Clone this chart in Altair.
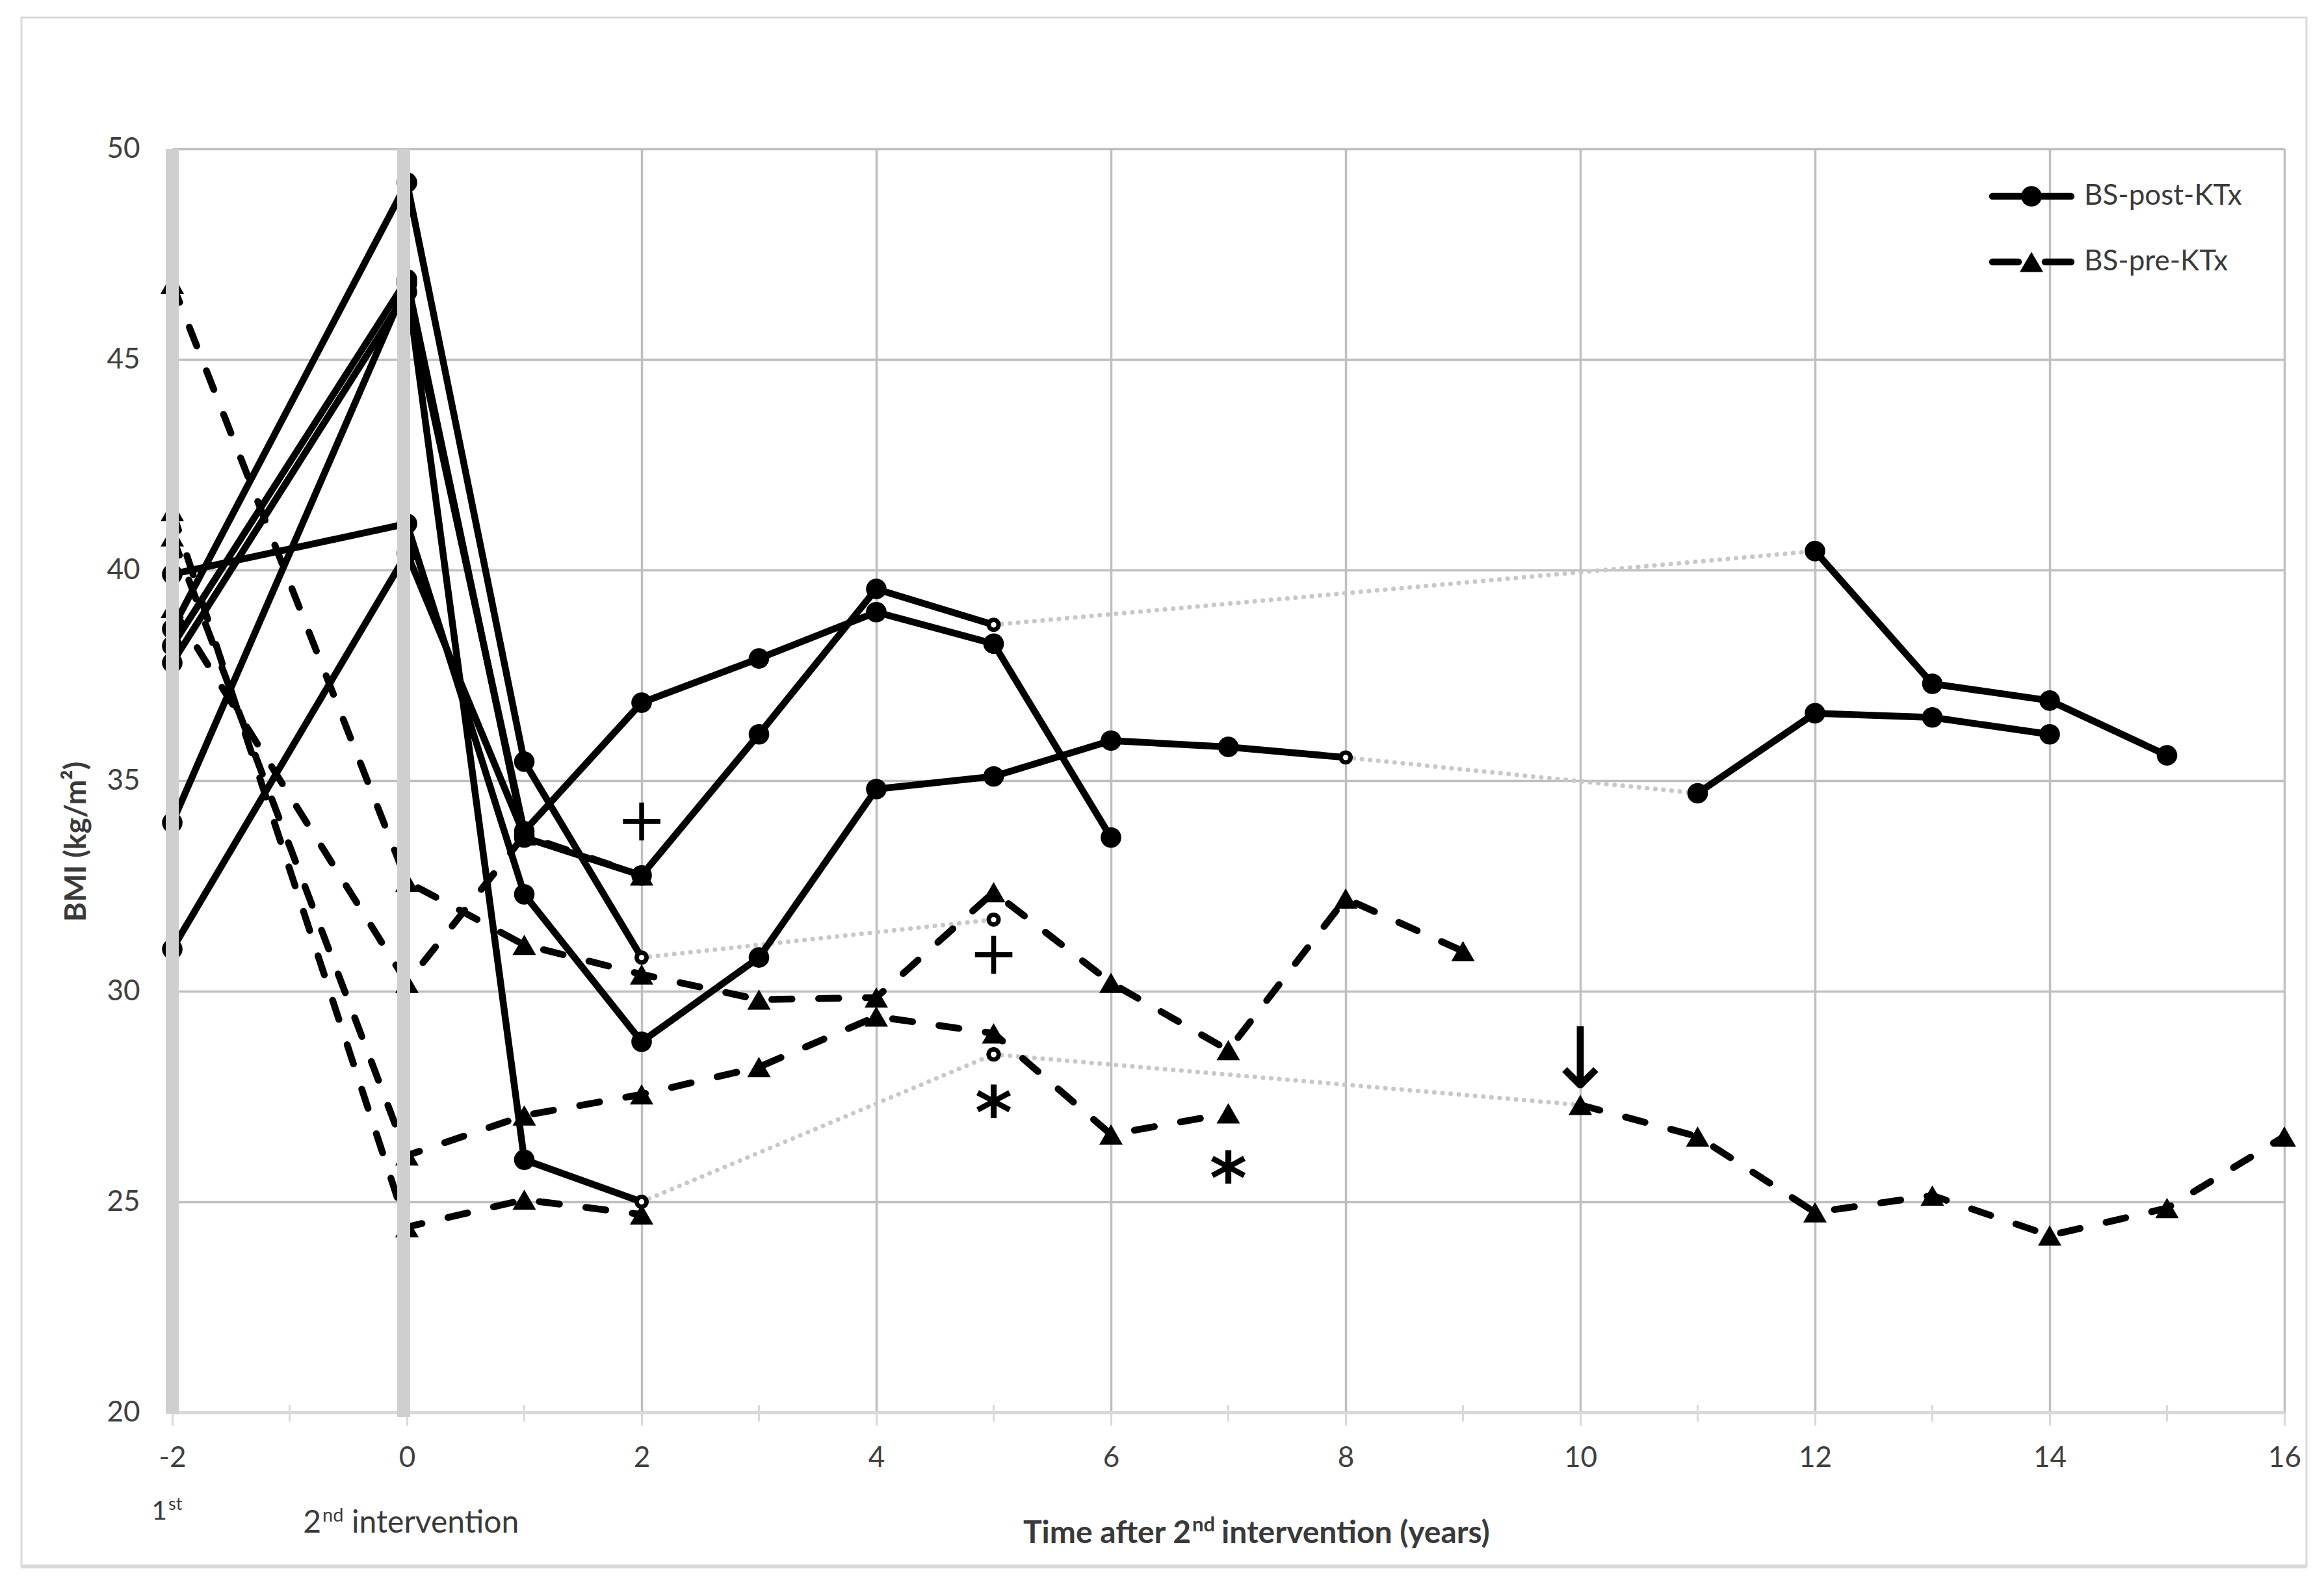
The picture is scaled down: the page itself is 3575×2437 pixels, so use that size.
import altair as alt
import pandas as pd

# ---------------- data ----------------
years = [-2, 0, 1, 2, 3, 4, 5, 6, 7, 8, 9, 10, 11, 12, 13, 14, 15, 16]
N = None

# BS-post-KTx patients (solid line, circles); None = no measurement that year
post_ktx = {
    "P1": [38.6, 49.2, 35.45, 30.8, N, N, 31.7, N, N, N, N, N, N, N, N, N, N, N],
    "P2": [38.2, 46.9, 33.65, 32.75, 36.1, 39.55, 38.7, N, N, N, N, N, N, 40.45, 37.3, 36.9, 35.6, N],
    "P3": [37.8, 46.6, 33.8, 36.85, 37.9, 39.0, 38.25, 33.65, N, N, N, N, N, N, N, N, N, N],
    "P4": [34.0, 46.8, 26.0, 25.0, N, N, 28.5, N, N, N, N, N, N, N, N, N, N, N],
    "P5": [39.9, 41.1, 32.3, 28.8, 30.8, 34.8, 35.1, 35.95, 35.8, 35.55, N, N, 34.7, 36.6, 36.5, 36.1, N, N],
    "P6": [31.0, 40.4, 33.7, N, N, N, N, N, N, N, N, N, N, N, N, N, N, N],
}

# BS-pre-KTx patients (dashed line, triangles)
pre_ktx = {
    "Q1": [46.8, 32.6, 31.1, 30.4, 29.8, 29.85, 32.35, 30.2, 28.6, 32.2, 30.95, N, N, N, N, N, N, N],
    "Q2": [40.8, 26.1, 27.05, 27.55, 28.2, 29.4, 29.0, 26.6, 27.1, N, N, N, N, N, N, N, N, N],
    "Q3": [41.4, 24.4, 25.05, 24.7, N, N, N, N, N, N, N, N, N, N, N, N, N, N],
    "Q4": [N, N, N, N, N, N, 28.5, N, N, N, N, 27.3, 26.55, 24.75, 25.15, 24.2, 24.85, 26.55],
    "Q5": [39.1, 30.2, 33.7, 32.75, N, N, N, N, N, N, N, N, N, N, N, N, N, N],
}

x_ticks = [-2, 0, 2, 4, 6, 8, 10, 12, 14, 16]
minor_ticks = [-1, 1, 3, 5, 7, 9, 11, 13, 15]
y_ticks = [20, 25, 30, 35, 40, 45, 50]
intervention_x = [-2, 0]

# annotation symbols
note_x = [2, 5, 5, 7, 10]
note_y = [34.1, 30.94, 27.45, 25.9, 28.44]
note_text = ["+", "+", "*", "*", "\u2193"]

legend_labels = ["BS-post-KTx", "BS-pre-KTx"]
y_title = "BMI (kg/m\u00b2)"
x_title_parts = ["Time after 2", "nd", "intervention (years)"]
first_parts = ["1", "st"]
second_parts = ["2", "nd", "intervention"]

# ---------------- build tables ----------------
line_rows, pt_rows, open_rows, gap_rows = [], [], [], []
for group, series in (("BS-post-KTx", post_ktx), ("BS-pre-KTx", pre_ktx)):
    for name, vals in series.items():
        runs, cur = [], []
        for xv, v in zip(years, vals):
            if v is None:
                if cur:
                    runs.append(cur)
                    cur = []
            else:
                cur.append((xv, v))
        if cur:
            runs.append(cur)
        for r_i, run in enumerate(runs):
            seg = f"{name}-{r_i}"
            for xv, v in run:
                line_rows.append(dict(group=group, seg=seg, x=xv, y=v))
            for p_i, (xv, v) in enumerate(run):
                is_open = (p_i == len(run) - 1 and r_i < len(runs) - 1) or (len(run) == 1 and r_i > 0)
                (open_rows if is_open else pt_rows).append(dict(group=group, x=xv, y=v))
            if r_i < len(runs) - 1:
                a, b = run[-1], runs[r_i + 1][0]
                gid = f"{name}-g{r_i}"
                gap_rows += [dict(gid=gid, x=a[0], y=a[1]), dict(gid=gid, x=b[0], y=b[1])]

lines = pd.DataFrame(line_rows)
pts = pd.DataFrame(pt_rows)
opens = pd.DataFrame(open_rows)
gaps = pd.DataFrame(gap_rows)
notes = pd.DataFrame({"x": note_x, "y": note_y, "t": note_text})

W, H = 3249, 1944
TXT = "#3a3a3a"
LW = 10.5

xscale = alt.Scale(domain=[-2, 16], nice=False, zero=False)
yscale = alt.Scale(domain=[20, 50], nice=False, zero=False)
X = alt.X("x:Q", scale=xscale, axis=alt.Axis(
    values=x_ticks, title=None, grid=True, gridColor="#bfbfbf", gridWidth=3.5,
    domain=True, domainColor="#d9d9d9", domainWidth=5,
    ticks=True, tickColor="#d9d9d9", tickWidth=3, tickSize=20,
    labelFont="Lato", labelFontSize=44, labelColor="#404040", labelPadding=28,
    labelFlush=False, labelOverlap=False, labelExpr="'' + datum.value"))
Y = alt.Y("y:Q", scale=yscale, axis=alt.Axis(
    values=y_ticks, title=None, grid=True, gridColor="#bfbfbf", gridWidth=3.5,
    domain=False, ticks=False, tickSize=0,
    labelFont="Lato", labelFontSize=44, labelColor="#404040", labelPadding=50,
    labelFlush=False, labelOverlap=False))

dotted = alt.Chart(gaps).mark_line(color="#c8c8c8", strokeWidth=7, strokeDash=[0.1, 12.5],
                                   strokeCap="round").encode(x=X, y=Y, detail="gid:N")
solid = alt.Chart(lines[lines.group == "BS-post-KTx"]).mark_line(
    color="black", strokeWidth=LW, strokeJoin="round").encode(x=X, y=Y, detail="seg:N")
dashed = alt.Chart(lines[lines.group == "BS-pre-KTx"]).mark_line(
    color="black", strokeWidth=LW, strokeDash=[31, 41], strokeCap="round").encode(x=X, y=Y, detail="seg:N")
circles = alt.Chart(pts[pts.group == "BS-post-KTx"]).mark_point(
    shape="circle", filled=True, color="black", size=1000, opacity=1).encode(x=X, y=Y)
tris = alt.Chart(pts[pts.group == "BS-pre-KTx"]).mark_point(
    shape="triangle-up", filled=True, color="black", size=1300, opacity=1).encode(x=X, y=Y)
open_outer = alt.Chart(opens).mark_point(shape="circle", filled=True, color="black",
                                         size=480, opacity=1).encode(x=X, y=Y)
open_inner = alt.Chart(opens).mark_point(shape="circle", filled=True, color="white",
                                         size=70, opacity=1).encode(x=X, y=Y)

band1 = alt.Chart(pd.DataFrame({"x": intervention_x[:1]})).mark_rule(
    color="#d0cece", strokeWidth=20).encode(x=X, y=alt.value(0), y2=alt.value(H + 2))
band2 = alt.Chart(pd.DataFrame({"x": intervention_x[1:]})).mark_rule(
    color="#d0cece", strokeWidth=20, xOffset=-5).encode(x=X, y=alt.value(0), y2=alt.value(H + 7))
minor = alt.Chart(pd.DataFrame({"x": minor_ticks})).mark_rule(
    color="#d9d9d9", strokeWidth=3).encode(x=X, y=alt.value(H - 11), y2=alt.value(H + 14))

plus = alt.Chart(notes[notes.t == "+"]).mark_text(
    font="DejaVu Sans", fontSize=92, color="black", dy=6).encode(x=X, y=Y, text="t:N")
star = alt.Chart(notes[notes.t == "*"]).mark_text(
    font="DejaVu Sans", fontSize=110, fontWeight="bold", color="black", dy=28).encode(x=X, y=Y, text="t:N")
arrow = alt.Chart(notes[notes.t == "\u2193"]).mark_text(
    font="DejaVu Sans", fontSize=130, color="black", dy=9).encode(x=X, y=Y, text="t:N")


def txt(s, px, py, **kw):
    return alt.Chart(pd.DataFrame({"t": [s]})).mark_text(**kw).encode(
        text="t:N", x=alt.value(px), y=alt.value(py))


one = pd.DataFrame({"a": [1]})
leg_line1 = alt.Chart(one).mark_rule(color="black", strokeWidth=LW, strokeCap="round").encode(
    x=alt.value(2800), x2=alt.value(2921), y=alt.value(73))
leg_pt1 = alt.Chart(one).mark_point(shape="circle", filled=True, color="black", size=1000, opacity=1).encode(
    x=alt.value(2860), y=alt.value(73))
leg_line2 = alt.Chart(one).mark_rule(color="black", strokeWidth=LW, strokeCap="round",
                                     strokeDash=[40, 41]).encode(
    x=alt.value(2800), x2=alt.value(2921), y=alt.value(174))
leg_pt2 = alt.Chart(one).mark_point(shape="triangle-up", filled=True, color="black", size=1300, opacity=1).encode(
    x=alt.value(2860), y=alt.value(174))
leg_t1 = txt(legend_labels[0], 2941, 73, font="Lato", fontSize=44, color=TXT, align="left", baseline="middle")
leg_t2 = txt(legend_labels[1], 2941, 174, font="Lato", fontSize=44, color=TXT, align="left", baseline="middle")

ytitle = txt(y_title, -147, 1066, font="Lato", fontSize=46, fontWeight="bold", color=TXT,
             angle=270, align="center", baseline="middle")
xt1 = txt(x_title_parts[0], 1567, H + 201, font="Lato", fontSize=48, fontWeight="bold", color=TXT,
          align="right", baseline="alphabetic")
xt2 = txt(x_title_parts[1], 1569, H + 183, font="Lato", fontSize=31, fontWeight="bold", color=TXT,
          align="left", baseline="alphabetic")
xt3 = txt(x_title_parts[2], 1614, H + 201, font="Lato", fontSize=48, fontWeight="bold", color=TXT,
          align="left", baseline="alphabetic")
f1 = txt(first_parts[0], -8, H + 165, font="Lato", fontSize=41, color=TXT, align="right", baseline="alphabetic")
f2 = txt(first_parts[1], -6, H + 150, font="Lato", fontSize=27, color=TXT, align="left", baseline="alphabetic")
s1 = txt(second_parts[0], 229, H + 185, font="Lato", fontSize=48, color=TXT, align="right", baseline="alphabetic")
s2 = txt(second_parts[1], 231, H + 168, font="Lato", fontSize=29, color=TXT, align="left", baseline="alphabetic")
s3 = txt(second_parts[2], 276, H + 185, font="Lato", fontSize=48, color=TXT, align="left", baseline="alphabetic")

border = alt.Chart(one).mark_rect(fillOpacity=0, stroke="#d9d9d9", strokeWidth=3).encode(
    x=alt.value(-232), x2=alt.value(3283), y=alt.value(-202), y2=alt.value(2181))
border_bottom = alt.Chart(one).mark_rule(color="#d9d9d9", strokeWidth=6).encode(
    x=alt.value(-232), x2=alt.value(3283), y=alt.value(2181))

chart = alt.layer(
    dotted, solid, dashed, circles, tris, open_outer, open_inner,
    band1, band2, minor, plus, star, arrow,
    leg_line1, leg_pt1, leg_line2, leg_pt2, leg_t1, leg_t2,
    ytitle, xt1, xt2, xt3, f1, f2, s1, s2, s3, border, border_bottom,
).properties(
    width=W, height=H,
    autosize=alt.AutoSizeParams(type="none"),
    padding={"left": 257, "top": 221, "right": 45, "bottom": 244},
).configure_view(stroke=None).configure(background="white")

chart.save("out.html", embed_options={"renderer": "svg", "actions": False})
